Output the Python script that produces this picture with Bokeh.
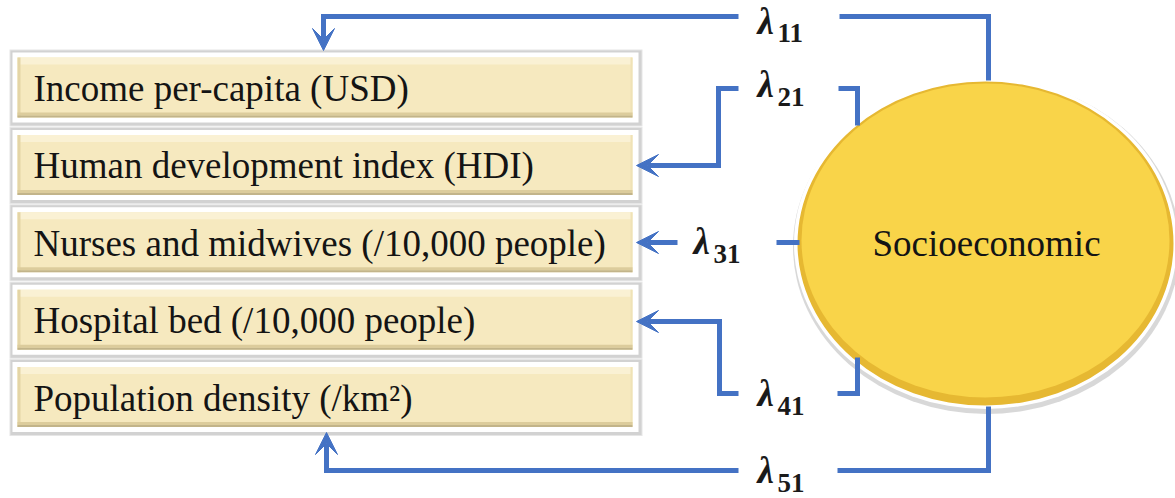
from bokeh.plotting import figure
from bokeh.models import Range1d, Arrow, VeeHead
from bokeh.core.properties import value
from bokeh.embed import file_html
from bokeh.resources import INLINE

# ---- content ----
indicators = [
    "Income per-capita (USD)",
    "Human development index (HDI)",
    "Nurses and midwives (/10,000 people)",
    "Hospital bed (/10,000 people)",
    "Population density (/km\u00b2)",
]
latent = "Socioeconomic"
loading_sub = ["11", "21", "31", "41", "51"]

BLUE = "#4472C4"
SERIF = "'Liberation Serif', 'Times New Roman', serif"

W, H = 1175, 498
p = figure(width=W, height=H, output_backend="svg", toolbar_location=None,
           x_range=Range1d(0, W), y_range=Range1d(H, 0),
           min_border=0, border_fill_color="white", background_fill_color="white")
p.axis.visible = False
p.grid.visible = False
p.outline_line_color = None

# ---- indicator boxes ----
top0, step, bh = 57, 77.4, 60
L, R = 17, 632
tops = [top0 + i * step for i in range(len(indicators))]
bots = [t + bh for t in tops]
mids = [t + bh / 2 for t in tops]

# soft shadow around white frame
p.quad(left=L - 8, right=R + 10, top=[t - 8 for t in tops], bottom=[b + 9 for b in bots],
       fill_color="#e6e6e6", line_color=None)
p.quad(left=L - 7, right=R + 9, top=[t - 7 for t in tops], bottom=[b + 8 for b in bots],
       fill_color="#d2d2d2", line_color=None)
p.quad(left=L - 5, right=R + 6, top=[t - 5 for t in tops], bottom=[b + 5 for b in bots],
       fill_color="white", line_color=None)
p.quad(left=L, right=R, top=tops, bottom=bots, fill_color="#F6E9BF", line_color=None)
p.quad(left=L, right=R, top=tops, bottom=[t + 7 for t in tops], fill_color="#FAF1D4", line_color=None)
p.quad(left=L, right=L + 3, top=tops, bottom=bots, fill_color="#E4D5A6", line_color=None)
p.quad(left=R - 2, right=R, top=tops, bottom=bots, fill_color="#EFE2B6", line_color=None)
p.quad(left=L, right=R, top=[b - 5 for b in bots], bottom=[b - 2 for b in bots], fill_color="#DCCC9C", line_color=None)
p.quad(left=L, right=R, top=[b - 2 for b in bots], bottom=bots, fill_color="#C2B48A", line_color=None)

p.text(x=[33] * len(indicators), y=[m + 1 for m in mids], text=indicators,
       text_font=value(SERIF), text_font_size="37px", text_color="#141414",
       text_baseline="middle", text_align="left")

# ---- latent ellipse ----
cx, cy, ew, eh = 985, 243, 376, 324
p.ellipse(x=cx + 1, y=cy + 3, width=ew + 11, height=eh + 11, fill_color="#c8c8c8", line_color=None, fill_alpha=0.7)
p.ellipse(x=cx, y=cy, width=ew + 7, height=eh + 7, fill_color="white", line_color=None)
p.ellipse(x=cx, y=cy, width=ew, height=eh, fill_color="#E6B832", line_color=None)
p.ellipse(x=cx, y=cy - 3, width=ew - 8, height=eh - 10, fill_color="#F9D449", line_color=None)
p.text(x=[cx + 1], y=[cy], text=[latent], text_font=value(SERIF), text_font_size="37px",
       text_color="#141414", text_baseline="middle", text_align="center")

# ---- connectors ----
xs = [
    [988, 988, 839], [738, 323, 323],
    [857, 857, 838], [738, 718, 718, 650],
    [799, 776], [677, 650],
    [857, 857, 837], [738, 719, 719, 650],
    [988, 988, 837], [738, 326, 326],
]
ys = [
    [80, 16, 16], [16, 16, 36],
    [125, 88, 88], [88, 88, 165, 165],
    [242, 242], [242, 242],
    [357, 393, 393], [393, 393, 321, 321],
    [406, 470, 470], [470, 470, 448],
]
p.multi_line(xs=xs, ys=ys, line_color=BLUE, line_width=5, line_join="miter", line_cap="butt")

heads = [((323, 30), (323, 50)), ((660, 165), (636, 165)), ((660, 242), (636, 242)),
         ((660, 321), (636, 321)), ((326, 452), (326, 432))]
for (x0, y0), (x1, y1) in heads:
    p.add_layout(Arrow(x_start=x0, y_start=y0, x_end=x1, y_end=y1, line_color=BLUE, line_width=5,
                       end=VeeHead(size=22, fill_color=BLUE, line_color=BLUE, line_width=1)))

# ---- loading labels ----
lx = [757, 757, 693, 757, 757]
lc = [20.5, 84, 241, 393, 470]
p.text(x=lx, y=lc, text=["\u03bb"] * 5, text_font=value(SERIF), text_font_style="bold italic",
       text_font_size="37px", text_color="#1a1a1a", text_baseline="middle", text_align="left")
p.text(x=[x + 20 for x in lx], y=[y + 12 for y in lc], text=loading_sub, text_font=value(SERIF),
       text_font_style="bold", text_font_size="27px", text_color="#1a1a1a",
       text_baseline="middle", text_align="left")

open("out.html", "w").write(file_html(p, INLINE))
